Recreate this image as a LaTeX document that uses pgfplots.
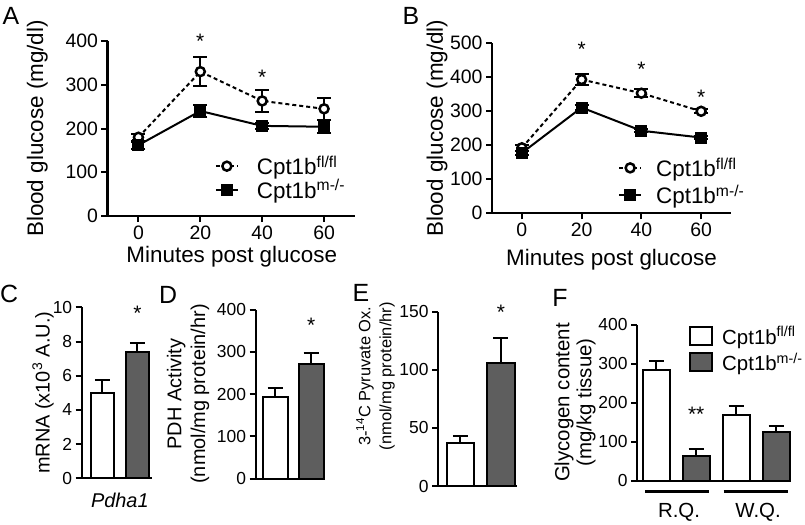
\documentclass[border=0pt]{standalone}
\usepackage{fontspec}
\setmainfont{Liberation Sans}
\usepackage{pgfplots}
\pgfplotsset{compat=1.18}
\definecolor{barg}{RGB}{94,94,94}
\tikzset{
  star/.style={font=\fontsize{21}{21}\selectfont, inner sep=0pt, yshift=-4bp},
  panel/.style={font=\fontsize{25}{25}\selectfont, inner sep=0pt},
}
\pgfplotsset{
  gp/.style={
    scale only axis, clip=false,
    axis x line*=bottom, axis y line*=left,
    axis line style={line width=2bp},
    tick align=outside, major tick length=6bp,
    every tick/.style={black, line width=2bp},
    tick label style={font=\fontsize{17.5}{20}\selectfont},
    /pgf/number format/assume math mode=true,
    every axis label/.append style={font=\fontsize{22.5}{26}\selectfont},
    ylabel style={anchor=center, align=center},
    xlabel style={anchor=center},
  },
  bars/.style={gp, ybar, bar width=#1, bar shift=0pt, xtick=\empty, ymin=0,
    error bars/y dir=plus, error bars/y explicit,
    error bars/error bar style={line width=2bp, black},
    error bars/error mark options={line width=2bp, mark size=7.5bp, black, rotate=90},
  },
  wbar/.style={draw=black, fill=white, line width=2bp},
  gbar/.style={draw=black, fill=barg, line width=2bp},
  lineplot/.style={
    tick label style={font=\fontsize{19.5}{20}\selectfont},
    error bars/y dir=both, error bars/y explicit,
    error bars/error bar style={solid, line width=2bp, black},
    error bars/error mark options={solid, line width=2bp, mark size=7bp, black, rotate=90},
    legend image code/.code={\draw[mark repeat=2,mark phase=2,##1] plot coordinates {(0bp,0bp) (11bp,0bp) (22bp,0bp)};},
    legend cell align=left,
    legend style={draw=none, fill=none, inner sep=0bp, font=\fontsize{22.5}{26}\selectfont, nodes={inner sep=1bp}},
  },
  flfl/.style={black, line width=2bp, dash pattern=on 4bp off 3bp, mark=*, mark size=4.5bp, mark options={solid, fill=white, draw=black, line width=2.5bp}},
  mko/.style={black, line width=2bp, solid, mark=square*, mark size=5bp, mark options={solid, fill=black}},
}
\begin{document}
\begin{tikzpicture}
\path[use as bounding box] (0,0) rectangle (805bp,-525bp);

% ---------- A ----------
\begin{axis}[gp, lineplot, at={(107.5bp,-216bp)}, anchor=south west,
  width=247.5bp, height=175bp,
  xmin=-10, xmax=70, ymin=0, ymax=400,
  xtick={0,20,40,60}, ytick={0,100,200,300,400},
  xlabel={Minutes post glucose}, ylabel={Blood glucose (mg/dl)},
  xlabel style={at={(axis description cs:0.502,-0.233)}},
  ylabel style={at={(axis description cs:-0.284,0.5)}},
  legend style={at={(axis description cs:0.433,0.218)}, anchor=west, row sep=1bp},
  /tikz/every odd column/.append style={column sep=17bp},
]
\addplot[flfl] coordinates {(0,180) +- (0,8) (20,330) +- (0,33) (40,263) +- (0,25) (60,245) +- (0,25)};
\addlegendentry{Cpt1b\textsuperscript{fl/fl}}
\addplot[mko] coordinates {(0,162) +- (0,8) (20,240) +- (0,14) (40,206) +- (0,6) (60,204) +- (0,15)};
\addlegendentry{Cpt1b\textsuperscript{m-/-}}
\node[star] at (axis cs:20,409) {*};
\node[star] at (axis cs:40,327) {*};
\end{axis}

% ---------- B ----------
\begin{axis}[gp, lineplot, at={(492bp,-213.3bp)}, anchor=south west,
  width=239bp, height=170.6bp,
  xmin=-10, xmax=70, ymin=0, ymax=500,
  xtick={0,20,40,60}, ytick={0,100,200,300,400,500},
  xlabel={Minutes post glucose}, ylabel={Blood glucose (mg/dl)},
  xlabel style={at={(axis description cs:0.50,-0.274)}},
  ylabel style={at={(axis description cs:-0.230,0.5)}},
  legend style={at={(axis description cs:0.527,0.186)}, anchor=west, row sep=5bp},
  /tikz/every odd column/.append style={column sep=13bp},
]
\addplot[flfl] coordinates {(0,192) +- (0,8) (20,392) +- (0,16) (40,352) +- (0,12) (60,299) +- (0,6)};
\addlegendentry{Cpt1b\textsuperscript{fl/fl}}
\addplot[mko] coordinates {(0,177) +- (0,5) (20,310) +- (0,6) (40,242) +- (0,5) (60,222) +- (0,5)};
\addlegendentry{Cpt1b\textsuperscript{m-/-}}
\node[star] at (axis cs:20,493) {*};
\node[star] at (axis cs:40,435) {*};
\node[star] at (axis cs:60,352) {*};
\end{axis}

% ---------- C ----------
\begin{axis}[bars=0.66, at={(81.7bp,-478.3bp)}, anchor=south west,
  width=70bp, height=171bp,
  xmin=0.41, xmax=2.41, ymax=10, ytick={0,2,4,6,8,10},
  ylabel={mRNA (x10\textsuperscript{3} A.U.)},
  ylabel style={at={(axis description cs:-0.553,0.5)}, font=\fontsize{20}{24}\selectfont},
]
\addplot[wbar] coordinates {(1,5.0) +- (0,0.72)};
\addplot[gbar] coordinates {(2,7.4) +- (0,0.5)};
\node[star] at (axis cs:2,9.88) {*};
\node[font=\fontsize{20}{20}\selectfont\itshape, anchor=center] at (axis cs:1.5,-1.27) {Pdha1};
\end{axis}

% ---------- D ----------
\begin{axis}[bars=0.70, at={(255.5bp,-478.5bp)}, anchor=south west,
  width=69.5bp, height=169bp,
  xmin=0.453, xmax=2.387, ymax=400, ytick={0,100,200,300,400},
  ylabel={PDH Activity\\(nmol/mg protein/hr)},
  ylabel style={at={(axis description cs:-0.97,0.5)}, font=\fontsize{20}{24}\selectfont},
]
\addplot[wbar] coordinates {(1,194) +- (0,21)};
\addplot[gbar] coordinates {(2,271) +- (0,25)};
\node[star] at (axis cs:2,372) {*};
\end{axis}

% ---------- E ----------
\begin{axis}[bars=0.675, at={(438bp,-486bp)}, anchor=south west,
  width=78.7bp, height=174.3bp,
  xmin=0.452, xmax=2.386, ymax=150, ytick={0,50,100,150},
  ylabel={3-\textsuperscript{14}C Pyruvate Ox.\\(nmol/mg protein/hr)},
  ylabel style={at={(axis description cs:-0.794,0.63)}, font=\fontsize{16.5}{21}\selectfont},
]
\addplot[wbar] coordinates {(1,36.7) +- (0,6.5)};
\addplot[gbar] coordinates {(2,106) +- (0,21.6)};
\node[star] at (axis cs:2,153) {*};
\end{axis}

% ---------- F ----------
\begin{axis}[bars=0.675, at={(637bp,-480.5bp)}, anchor=south west,
  width=153bp, height=156bp,
  xmin=0.5175, xmax=4.35, ymax=400, ytick={0,100,200,300,400},
  ylabel={Glycogen content\\(mg/kg tissue)},
  ylabel style={at={(axis description cs:-0.405,0.5)}, font=\fontsize{20.5}{22}\selectfont},
  legend cell align=left,
  legend image code/.code={\draw[#1, line width=2bp] (0bp,-9bp) rectangle (22bp,9bp);},
  legend style={draw=none, fill=none, inner sep=0bp, font=\fontsize{20.5}{24}\selectfont, nodes={inner sep=1bp},
    at={(axis description cs:0.34,0.842)}, anchor=west, row sep=5bp},
  /tikz/every odd column/.append style={column sep=8bp},
]
\addplot[wbar] coordinates {(1,283) +- (0,24) (3,168) +- (0,23)};
\addlegendentry{Cpt1b\textsuperscript{fl/fl}}
\addplot[gbar] coordinates {(2,62) +- (0,19) (4,125) +- (0,15)};
\addlegendentry{Cpt1b\textsuperscript{m-/-}}
\node[star] at (axis cs:2,179) {**};
\draw[line width=2.5bp] (axis cs:0.72,-27.6) -- (axis cs:2.32,-27.6);
\draw[line width=2.5bp] (axis cs:2.69,-27.6) -- (axis cs:4.31,-27.6);
\node[font=\fontsize{20.5}{20}\selectfont] at (axis cs:1.57,-81.8) {R.Q.};
\node[font=\fontsize{20.5}{20}\selectfont] at (axis cs:3.55,-81.8) {W.Q.};
\end{axis}

% panel letters
\node[panel] at (11bp,-16bp) {A};
\node[panel] at (411bp,-16bp) {B};
\node[panel] at (9bp,-294bp) {C};
\node[panel] at (168bp,-295bp) {D};
\node[panel] at (361bp,-293bp) {E};
\node[panel] at (560bp,-298bp) {F};
\end{tikzpicture}
\end{document}
